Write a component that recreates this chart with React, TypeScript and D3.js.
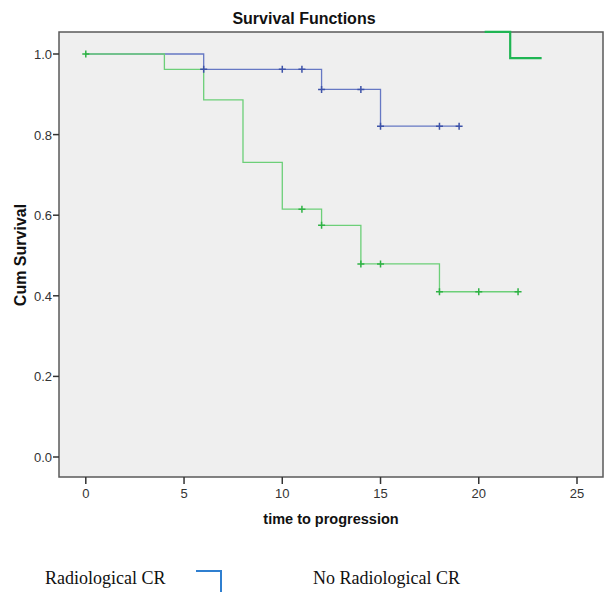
import React, { useEffect, useRef } from "react";
import * as d3 from "d3";

// Radiological CR (blue)
const crSteps: [number, number][] = [
  [0, 1.0], [6, 0.962], [12, 0.912], [15, 0.821], [19, 0.821],
];
const crCensored: [number, number][] = [
  [6, 0.962], [10, 0.962], [11, 0.962], [12, 0.912], [14, 0.912],
  [15, 0.821], [18, 0.821], [19, 0.821],
];

// No Radiological CR (green)
const noCrSteps: [number, number][] = [
  [0, 1.0], [4, 0.962], [6, 0.886], [8, 0.731], [10, 0.615],
  [12, 0.575], [14, 0.479], [18, 0.41], [22, 0.41],
];
const noCrCensored: [number, number][] = [
  [0, 1.0], [11, 0.615], [12, 0.575], [14, 0.479], [15, 0.479],
  [18, 0.41], [20, 0.41], [22, 0.41],
];

// stray legend symbol sitting at the top right of the plot
const strayMark: [number, number][] = [
  [20.3, 1.055], [21.6, 1.055], [21.6, 0.99], [23.2, 0.99],
];

const xTicks = [0, 5, 10, 15, 20, 25];
const yTicks = [0, 0.2, 0.4, 0.6, 0.8, 1.0];
const legendLabels = ["Radiological CR", "No Radiological CR"];

export default function App() {
  const ref = useRef<SVGSVGElement>(null);

  useEffect(() => {
    const svg = d3.select(ref.current);
    svg.selectAll("*").remove();

    const left = 59, right = 603, top = 32, bottom = 477;
    const x = d3.scaleLinear().domain([0, 25]).range([85.8, 577]);
    const y = d3.scaleLinear().domain([0, 1]).range([457, 54]);

    svg.append("rect")
      .attr("x", left).attr("y", top)
      .attr("width", right - left).attr("height", bottom - top)
      .attr("fill", "#efefef")
      .attr("stroke", "#5a5a5a").attr("stroke-width", 1.5);

    const tickFont = "'Liberation Sans Narrow', 'Liberation Sans', Arial, sans-serif";
    const boldFont = "'Liberation Sans', Arial, sans-serif";

    // y axis ticks
    const yAxis = svg.append("g");
    yTicks.forEach(t => {
      yAxis.append("line")
        .attr("x1", left - 6).attr("x2", left)
        .attr("y1", y(t)).attr("y2", y(t))
        .attr("stroke", "#333").attr("stroke-width", 1.5);
      yAxis.append("text")
        .attr("x", left - 7).attr("y", y(t) + 5)
        .attr("text-anchor", "end")
        .style("font-family", tickFont).style("font-size", "13px")
        .attr("fill", "#333")
        .text(d3.format(".1f")(t));
    });

    // x axis ticks
    const xAxis = svg.append("g");
    xTicks.forEach(t => {
      xAxis.append("line")
        .attr("x1", x(t)).attr("x2", x(t))
        .attr("y1", bottom).attr("y2", bottom + 7)
        .attr("stroke", "#333").attr("stroke-width", 1.5);
      xAxis.append("text")
        .attr("x", x(t)).attr("y", 498)
        .attr("text-anchor", "middle")
        .style("font-family", tickFont).style("font-size", "13px")
        .attr("fill", "#333")
        .text(t);
    });

    const stepLine = d3.line<[number, number]>()
      .x(d => x(d[0])).y(d => y(d[1]))
      .curve(d3.curveStepAfter);

    const series = [
      { steps: crSteps, cens: crCensored, line: "#6678c4", mark: "#3d52a8" },
      { steps: noCrSteps, cens: noCrCensored, line: "#6ccf78", mark: "#2fb245" },
    ];

    series.forEach(s => {
      svg.append("path")
        .datum(s.steps)
        .attr("d", stepLine)
        .attr("fill", "none")
        .attr("stroke", s.line).attr("stroke-width", 1.3);
    });
    series.forEach(s => {
      svg.append("g").selectAll("path").data(s.cens).join("path")
        .attr("d", d => {
          const cx = x(d[0]), cy = y(d[1]);
          return `M${cx - 3.5},${cy}H${cx + 3.5}M${cx},${cy - 3.5}V${cy + 3.5}`;
        })
        .attr("stroke", s.mark).attr("stroke-width", 1.5);
    });

    svg.append("path")
      .datum(strayMark)
      .attr("d", d3.line<[number, number]>().x(d => x(d[0])).y(d => y(d[1])))
      .attr("fill", "none")
      .attr("stroke", "#1fb553").attr("stroke-width", 2.2);

    svg.append("text")
      .attr("x", 304).attr("y", 24)
      .attr("text-anchor", "middle")
      .style("font-family", boldFont)
      .style("font-size", "16px").style("font-weight", "bold")
      .attr("fill", "#111")
      .text("Survival Functions");

    svg.append("text")
      .attr("x", 331).attr("y", 524)
      .attr("text-anchor", "middle")
      .style("font-family", boldFont)
      .style("font-size", "14.5px").style("font-weight", "bold")
      .attr("fill", "#111")
      .text("time to progression");

    svg.append("text")
      .attr("transform", "translate(26,255) rotate(-90)")
      .attr("text-anchor", "middle")
      .style("font-family", boldFont)
      .style("font-size", "16px").style("font-weight", "bold")
      .attr("fill", "#111")
      .text("Cum Survival");

    // legend row under the chart
    const legendX = [45, 313];
    legendLabels.forEach((lab, i) => {
      svg.append("text")
        .attr("x", legendX[i]).attr("y", 584)
        .style("font-family", "'Liberation Serif', 'Times New Roman', serif")
        .style("font-size", "18px")
        .attr("fill", "#111")
        .text(lab);
    });
    svg.append("path")
      .attr("d", "M196,571H221V592")
      .attr("fill", "none")
      .attr("stroke", "#2f7fd0").attr("stroke-width", 2);
  }, []);

  return (
    <svg
      ref={ref}
      width={606}
      height={592}
      style={{ position: "absolute", left: 0, top: 0, background: "#fff" }}
    />
  );
}
